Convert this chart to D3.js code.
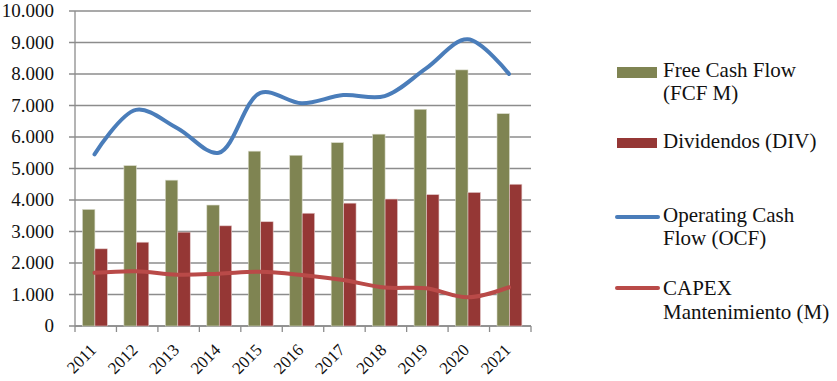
<!DOCTYPE html>
<html><head><meta charset="utf-8">
<script src="https://cdn.jsdelivr.net/npm/d3@7"></script>
<style>
html,body{margin:0;padding:0;background:#fff;}
</style></head>
<body>
<svg id="c" width="837" height="381" font-family="Liberation Serif"></svg>
<script>
const years = ["2011","2012","2013","2014","2015","2016","2017","2018","2019","2020","2021"];
const fcf = [3700,5090,4630,3840,5550,5420,5820,6090,6880,8130,6740];
const div = [2450,2660,2980,3180,3310,3580,3900,4030,4170,4240,4500];
const ocf = [5450,6860,6280,5500,7400,7070,7330,7300,8180,9100,8000];
const capex = [1690,1740,1630,1660,1720,1620,1460,1220,1200,910,1230];
const yTicks = [0,1000,2000,3000,4000,5000,6000,7000,8000,9000,10000];
const legendFCF = ["Free Cash Flow","(FCF M)"];
const legendDIV = ["Dividendos (DIV)"];
const legendOCF = ["Operating Cash","Flow (OCF)"];
const legendCAPEX = ["CAPEX","Mantenimiento (M)"];

const colFCF="#7F8452", colDIV="#953735", colOCF="#4A7DBA", colCAPEX="#B94A48", grid="#8C8C8C";
const FONT = "Liberation Serif";

const svg = d3.select("#c");
const x0=75, x1=531, yB=326, yT=11;
const x = d3.scaleBand().domain(years).range([x0,x1]).paddingInner(0).paddingOuter(0);
const y = d3.scaleLinear().domain([0,10000]).range([yB,yT]);
const fmt = v => d3.format(",")(v).replace(/,/g,".");

// gridlines
svg.append("g").selectAll("line").data(yTicks).join("line")
  .attr("x1",x0-6).attr("x2",x1).attr("y1",d=>y(d)).attr("y2",d=>y(d))
  .attr("stroke",grid).attr("stroke-width",1.3);

// y labels
svg.append("g").selectAll("text").data(yTicks).join("text")
  .attr("x",54).attr("y",d=>y(d)+6).attr("text-anchor","end")
  .attr("font-family",FONT).attr("font-size",19).attr("fill","#111").text(fmt);

// axis lines
svg.append("line").attr("x1",x0).attr("x2",x0).attr("y1",yT).attr("y2",yB)
  .attr("stroke",grid).attr("stroke-width",1.3);
svg.append("line").attr("x1",x0).attr("x2",x1).attr("y1",yB).attr("y2",yB)
  .attr("stroke",grid).attr("stroke-width",1.3);
const bounds = years.map(d=>x(d)).concat([x1]);
svg.append("g").selectAll("line").data(bounds).join("line")
  .attr("x1",d=>d).attr("x2",d=>d).attr("y1",yB).attr("y2",yB+6)
  .attr("stroke",grid).attr("stroke-width",1.3);

// bars
const bw = x.bandwidth()*0.3;
const off = x.bandwidth()*0.18;
svg.append("g").selectAll("rect").data(years).join("rect")
  .attr("x",d=>x(d)+off).attr("width",bw)
  .attr("y",(d,i)=>y(fcf[i])).attr("height",(d,i)=>yB-y(fcf[i]))
  .attr("fill",colFCF).attr("stroke","#D8D9C8").attr("stroke-width",0.6);
svg.append("g").selectAll("rect").data(years).join("rect")
  .attr("x",d=>x(d)+off+bw).attr("width",bw)
  .attr("y",(d,i)=>y(div[i])).attr("height",(d,i)=>yB-y(div[i]))
  .attr("fill",colDIV).attr("stroke","#E2C9C8").attr("stroke-width",0.6);

// lines
const cx = d=>x(d)+x.bandwidth()*0.47;
const line = arr => d3.line().x((d,i)=>cx(years[i])).y(d=>y(d)).curve(d3.curveCatmullRom.alpha(0.5))(arr);
svg.append("path").attr("d",line(ocf)).attr("fill","none").attr("stroke",colOCF)
  .attr("stroke-width",4).attr("stroke-linecap","round");
svg.append("path").attr("d",line(capex)).attr("fill","none").attr("stroke",colCAPEX)
  .attr("stroke-width",4).attr("stroke-linecap","round");

// x labels
svg.append("g").selectAll("text").data(years).join("text")
  .attr("transform",d=>`translate(${x(d)+x.bandwidth()/2+1.5},${yB+25}) rotate(-45)`)
  .attr("text-anchor","end").attr("font-family",FONT).attr("font-size",17).attr("fill","#111").text(d=>d);

// legend
const lg = svg.append("g");
const tx=663;
function texts(lines, y0){
  lines.forEach((t,i)=>lg.append("text").attr("x",tx).attr("y",y0+i*23.5)
    .attr("font-family",FONT).attr("font-size",21).attr("fill","#111").text(t));
}
lg.append("rect").attr("x",617).attr("y",67).attr("width",40).attr("height",11).attr("fill",colFCF);
texts(legendFCF,76.5);
lg.append("rect").attr("x",617).attr("y",138).attr("width",40).attr("height",10).attr("fill",colDIV);
texts(legendDIV,148);
lg.append("line").attr("x1",617).attr("x2",658).attr("y1",217).attr("y2",217)
  .attr("stroke",colOCF).attr("stroke-width",4).attr("stroke-linecap","round");
texts(legendOCF,221.5);
lg.append("line").attr("x1",617).attr("x2",658).attr("y1",288).attr("y2",288)
  .attr("stroke",colCAPEX).attr("stroke-width",4).attr("stroke-linecap","round");
texts(legendCAPEX,295);
</script>
</body></html>
